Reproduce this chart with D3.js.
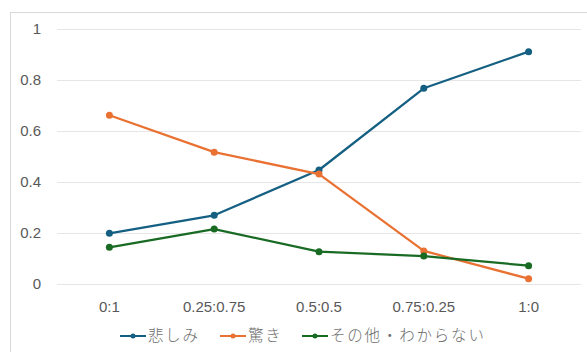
<!DOCTYPE html>
<html>
<head>
<meta charset="utf-8">
<script src="https://cdn.jsdelivr.net/npm/d3@7"></script>
<style>
body { margin: 0; background: #fff; }
text { font-family: "Liberation Sans", "Noto Sans CJK JP", sans-serif; fill: #595959; }
</style>
</head>
<body>
<svg id="chart" width="587" height="352"></svg>
<script>
// data
var categories = ["0:1", "0.25:0.75", "0.5:0.5", "0.75:0.25", "1:0"];
var sadness = [0.197, 0.268, 0.446, 0.767, 0.911];
var surprise = [0.661, 0.516, 0.430, 0.128, 0.019];
var other = [0.142, 0.214, 0.125, 0.108, 0.070];
var yTicks = [0, 0.2, 0.4, 0.6, 0.8, 1];
var seriesNames = ["悲しみ", "驚き", "その他・わからない"];

var colors = ["#156082", "#E97132", "#196B24"];
var series = [sadness, surprise, other];

var svg = d3.select("#chart");

// chart frame
svg.append("rect")
	.attr("x", 10.5).attr("y", 12.5)
	.attr("width", 590).attr("height", 350)
	.attr("fill", "none")
	.attr("stroke", "#d9d9d9");

var x = d3.scaleBand().domain(categories).range([57, 581]);
var y = d3.scaleLinear().domain([0, 1]).range([283.5, 29]);

// gridlines
svg.selectAll(".grid").data(yTicks).enter()
	.append("line")
	.attr("class", "grid")
	.attr("x1", 57).attr("x2", 581)
	.attr("y1", function(d) { return Math.round(y(d)) + 0.5; })
	.attr("y2", function(d) { return Math.round(y(d)) + 0.5; })
	.attr("stroke", "#e6e6e6")
	.attr("stroke-width", 1);

// y labels
svg.selectAll(".ylab").data(yTicks).enter()
	.append("text")
	.attr("class", "ylab")
	.attr("x", 41)
	.attr("y", function(d) { return y(d); })
	.attr("dy", "0.35em")
	.attr("text-anchor", "end")
	.style("font-size", "15px")
	.text(function(d) { return d3.format("~g")(d); });

// x labels
svg.selectAll(".xlab").data(categories).enter()
	.append("text")
	.attr("class", "xlab")
	.attr("x", function(d) { return x(d) + x.bandwidth() / 2; })
	.attr("y", 307)
	.attr("dy", "0.35em")
	.attr("text-anchor", "middle")
	.style("font-size", "15px")
	.text(function(d) { return d; });

var line = d3.line()
	.x(function(d, i) { return x(categories[i]) + x.bandwidth() / 2; })
	.y(function(d) { return y(d); });

series.forEach(function(vals, k) {
	svg.append("path")
		.datum(vals)
		.attr("d", line)
		.attr("fill", "none")
		.attr("stroke", colors[k])
		.attr("stroke-width", 2.25)
		.attr("stroke-linejoin", "round");
	svg.selectAll(".pt" + k).data(vals).enter()
		.append("circle")
		.attr("class", "pt" + k)
		.attr("cx", function(d, i) { return x(categories[i]) + x.bandwidth() / 2; })
		.attr("cy", function(d) { return y(d); })
		.attr("r", 3.5)
		.attr("fill", colors[k]);
});

// legend
var legendX = [120, 220, 302];
var legend = svg.selectAll(".legend").data(seriesNames).enter()
	.append("g")
	.attr("class", "legend")
	.attr("transform", function(d, i) { return "translate(" + legendX[i] + ",336)"; });
legend.append("line")
	.attr("x1", 0).attr("x2", 26)
	.attr("stroke", function(d, i) { return colors[i]; })
	.attr("stroke-width", 2);
legend.append("circle")
	.attr("cx", 13).attr("r", 2.5)
	.attr("fill", function(d, i) { return colors[i]; });
legend.append("text")
	.attr("x", 28)
	.attr("dy", "0.35em")
	.style("font-size", "15.5px")
	.style("font-family", "'Noto Sans CJK JP', sans-serif")
	.style("font-weight", "300")
	.style("fill", "#6e6e6e")
	.style("letter-spacing", "1.8px")
	.text(function(d) { return d; });
</script>
</body>
</html>
